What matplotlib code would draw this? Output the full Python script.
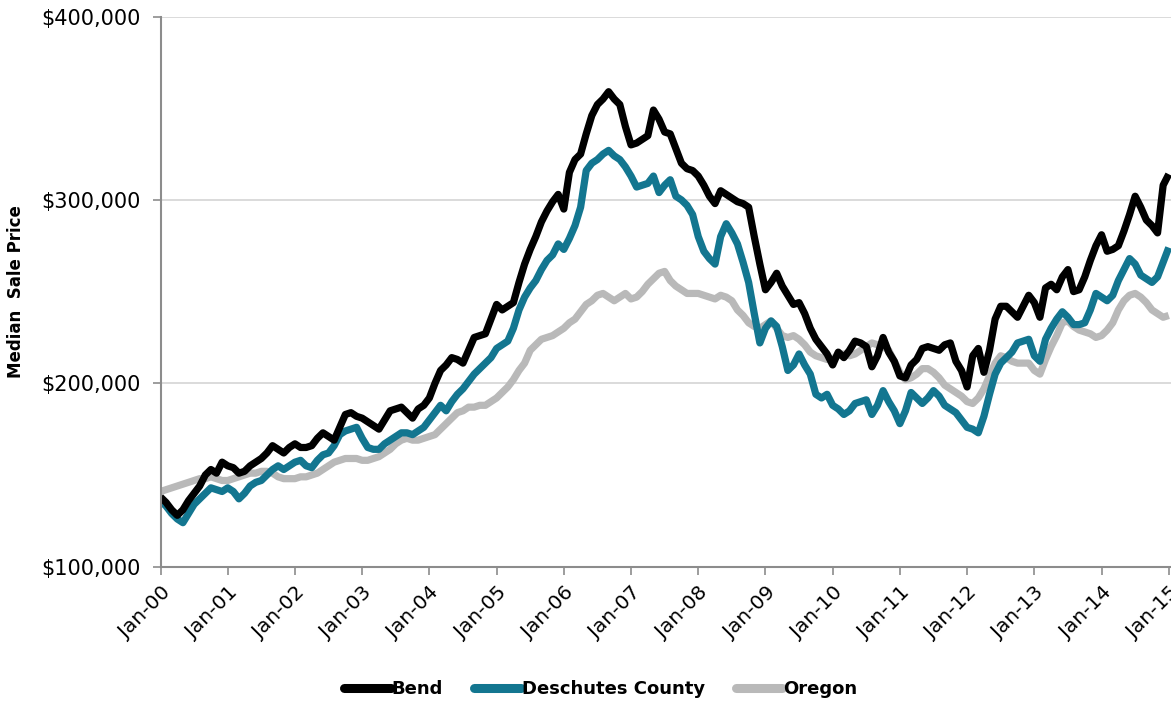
import matplotlib
matplotlib.use("Agg")
import matplotlib.pyplot as plt
from matplotlib.ticker import FuncFormatter, FixedLocator
from matplotlib.lines import Line2D

# Monthly median sale price, thousands of dollars, Jan-2000 .. Jan-2015
bend = [138, 135, 131, 128, 131, 136, 140, 144, 150, 153, 151, 157,
        155, 154, 151, 152, 155, 157, 159, 162, 166, 164, 162, 165,
        167, 165, 165, 166, 170, 173, 171, 169, 176, 183, 184, 182,
        181, 179, 177, 175, 180, 185, 186, 187, 184, 181, 186, 188,
        192, 200, 207, 210, 214, 213, 211, 218, 225, 226, 227, 235,
        243, 240, 242, 244, 255, 265, 273, 280, 288, 294, 299, 303,
        295, 315, 322, 325, 336, 346, 352, 355, 359, 355, 352, 340,
        330, 331, 333, 335, 349, 344, 337, 336, 328, 320, 317, 316,
        313, 308, 302, 298, 305, 303, 301, 299, 298, 296, 280, 265,
        251, 255, 260, 253, 248, 243, 244, 238, 230, 224, 220, 216,
        210, 217, 214, 218, 223, 222, 220, 209, 215, 225, 217, 212,
        204, 203, 210, 213, 219, 220, 219, 218, 221, 222, 212, 207,
        198, 215, 219, 206, 218, 235, 242, 242, 239, 236, 242, 248,
        244, 236, 252, 254, 251, 258, 262, 250, 251, 258, 267, 275,
        281, 272, 273, 275, 283, 292, 302, 296, 289, 286, 282, 308,
        314]
deschutes = [136, 133, 129, 126, 124, 129, 134, 137, 140, 143, 142, 141,
             143, 141, 137, 140, 144, 146, 147, 150, 153, 155, 153, 155,
             157, 158, 155, 154, 158, 161, 162, 166, 172, 174, 175, 176,
             170, 165, 164, 164, 167, 169, 171, 173, 173, 172, 174, 176,
             180, 184, 188, 185, 190, 194, 197, 201, 205, 208, 211, 214,
             219, 221, 223, 230, 240, 247, 252, 256, 262, 267, 270, 276,
             273, 279, 286, 296, 316, 320, 322, 325, 327, 324, 322, 318,
             313, 307, 308, 309, 313, 304, 308, 311, 302, 300, 297, 292,
             280, 272, 268, 265, 280, 287, 282, 276, 266, 255, 238, 222,
             230, 234, 231, 220, 207, 210, 216, 210, 205, 194, 192, 194,
             188, 186, 183, 185, 189, 190, 191, 183, 188, 196, 190, 185,
             178, 185, 195, 192, 189, 192, 196, 193, 188, 186, 184, 180,
             176, 175, 173, 182, 194, 205, 211, 214, 217, 222, 223, 224,
             215, 212, 224, 230, 235, 239, 236, 232, 232, 233, 240, 249,
             247, 245, 248, 256, 262, 268, 265, 259, 257, 255, 258, 266,
             274]
oregon = [141, 142, 143, 144, 145, 146, 147, 148, 148, 149, 148, 147,
          147, 148, 149, 150, 151, 151, 152, 152, 151, 149, 148, 148,
          148, 149, 149, 150, 151, 153, 155, 157, 158, 159, 159, 159,
          158, 158, 159, 160, 162, 164, 167, 169, 170, 169, 169, 170,
          171, 172, 175, 178, 181, 184, 185, 187, 187, 188, 188, 190,
          192, 195, 198, 202, 207, 211, 218, 221, 224, 225, 226, 228,
          230, 233, 235, 239, 243, 245, 248, 249, 247, 245, 247, 249,
          246, 247, 250, 254, 257, 260, 261, 256, 253, 251, 249, 249,
          249, 248, 247, 246, 248, 247, 245, 240, 237, 233, 231, 230,
          232, 234, 230, 226, 225, 226, 224, 221, 217, 215, 214, 213,
          213, 216, 216, 215, 216, 218, 220, 222, 221, 220, 218, 212,
          206, 202, 203, 205, 208, 208, 206, 203, 199, 197, 195, 193,
          190, 189, 192, 197, 204, 211, 215, 214, 212, 211, 211, 211,
          207, 205, 213, 220, 226, 233, 234, 231, 229, 228, 227, 225,
          226, 229, 233, 240, 245, 248, 249, 247, 244, 240, 238, 236,
          237]

series_names = ["Bend", "Deschutes County", "Oregon"]
series_colors = ["#000000", "#137690", "#b9b9b9"]
year_labels = ["Jan-%02d" % y for y in range(0, 16)]
y_ticks = [100000, 200000, 300000, 400000]

plt.rcParams['font.family'] = ['DejaVu Sans']

fig = plt.figure(figsize=(11.71, 7.04), dpi=100)
ax = fig.add_axes([160.5 / 1171, 1 - 566.7 / 704, (1171 - 160.5) / 1171, (566.7 - 16.5) / 704])

months = list(range(len(bend)))
data = {"Bend": bend, "Deschutes County": deschutes, "Oregon": oregon}
for name, col, z in [("Oregon", series_colors[2], 2),
                     ("Deschutes County", series_colors[1], 3),
                     ("Bend", series_colors[0], 4)]:
    vals = [v * 1000 for v in data[name]]
    ax.plot(months, vals, color=col, lw=5.2, solid_joinstyle='round',
            solid_capstyle='butt', zorder=z, label=name)

ax.set_xlim(0, 180.4)
ax.set_ylim(100000, 400000)
ax.xaxis.set_major_locator(FixedLocator([12 * i for i in range(len(year_labels))]))
ax.set_xticklabels(year_labels, rotation=45, ha='right', rotation_mode='anchor', fontsize=14.5)
ax.yaxis.set_major_locator(FixedLocator(y_ticks))
ax.yaxis.set_major_formatter(FuncFormatter(lambda v, p: "${:,.0f}".format(v)))
for lab in ax.get_yticklabels():
    lab.set_fontsize(15)

ax.grid(axis='y', color='#d4d4d4', lw=1.2, zorder=0)
for s in ['top', 'right']:
    ax.spines[s].set_visible(False)
for s in ['left', 'bottom']:
    ax.spines[s].set_color('#8c8c8c')
    ax.spines[s].set_linewidth(1.5)
    ax.spines[s].set_zorder(5)
ax.tick_params(axis='both', color='#8c8c8c', width=1.2, length=6, direction='out')
ax.tick_params(axis='x', pad=6)
ax.tick_params(axis='y', pad=8)

ax.set_ylabel("Median  Sale Price", fontsize=12, fontweight='bold', labelpad=12)

handles = [Line2D([], [], color=c, lw=6.5, solid_capstyle='round') for c in series_colors]
fig.legend(handles, series_names, loc='center', bbox_to_anchor=(0.513, 1 - 689 / 704), ncol=3,
           frameon=False, handlelength=2.6, handletextpad=0.05, columnspacing=1.7,
           prop={'weight': 'bold', 'size': 13})

fig.savefig("out.png", dpi=100)
